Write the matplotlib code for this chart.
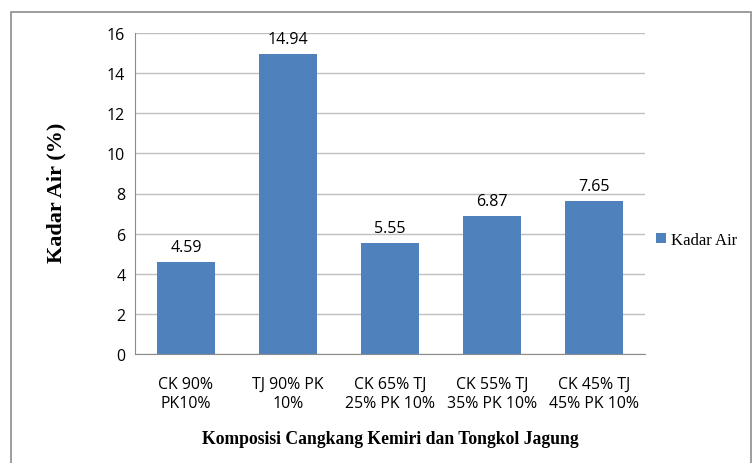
import matplotlib
matplotlib.use("Agg")
import matplotlib.pyplot as plt
from matplotlib.patches import Rectangle

categories = ["CK 90%\nPK10%", "TJ 90% PK\n10%", "CK 65% TJ\n25% PK 10%", "CK 55% TJ\n35% PK 10%", "CK 45% TJ\n45% PK 10%"]
values = [4.59, 14.94, 5.55, 6.87, 7.65]
yticks = [0, 2, 4, 6, 8, 10, 12, 14, 16]
series_name = "Kadar Air"

W, H = 753, 464
fig = plt.figure(figsize=(W/100, H/100), dpi=100)
fig.patch.set_facecolor("white")

# outer border
fig.add_artist(Rectangle((11/W, -0.1), (751-11)/W, (H-13)/H + 0.1, transform=fig.transFigure,
                         fill=False, edgecolor="#8c8c8c", linewidth=1.2))

ax = fig.add_axes([135/W, (H-355)/H, (645-135)/W, (355-34)/H])
x = list(range(len(categories)))
bars = ax.bar(x, values, width=0.57, color="#4F81BD", label=series_name, zorder=3)
ax.set_xlim(-0.5, len(categories)-0.5)
ax.set_ylim(0, 16)
ax.set_yticks(yticks)
ax.set_yticklabels([str(t) for t in yticks], fontsize=11.5, family="Open Sans")
ax.set_xticks(x)
ax.set_xticklabels(categories, fontsize=11.4, family="Open Sans", linespacing=1.3)
ax.tick_params(axis="y", length=0, pad=7)
ax.tick_params(axis="x", length=0, pad=15.5)
ax.yaxis.grid(True, color="#BFBFBF", linewidth=1, zorder=0)
for s in ["top", "right"]:
    ax.spines[s].set_visible(False)
for s in ["left", "bottom"]:
    ax.spines[s].set_color("#8c8c8c")
ax.set_axisbelow(True)

for xi, v in zip(x, values):
    ax.annotate(f"{v:.2f}", (xi, v), xytext=(0, 5), textcoords="offset points",
                ha="center", va="bottom", fontsize=11.5, family="Open Sans")

fig.text(56/W, 1-193/H, "Kadar Air (%)", rotation=90, ha="center", va="center",
         fontsize=16, fontweight="bold", family="Liberation Serif")
fig.text(390/W, 1-440/H, "Komposisi Cangkang Kemiri dan Tongkol Jagung", ha="center", va="center",
         fontsize=12.7, fontweight="bold", family="Liberation Serif")

leg = fig.legend(handles=[bars], labels=[series_name], loc="center left",
                 bbox_to_anchor=(652/W - 0.0146, 1-241/H), frameon=False, handlelength=0.6, handleheight=0.6,
                 handletextpad=0.3, prop={"family": "Liberation Serif", "size": 12})

fig.savefig("out.png", dpi=100)
